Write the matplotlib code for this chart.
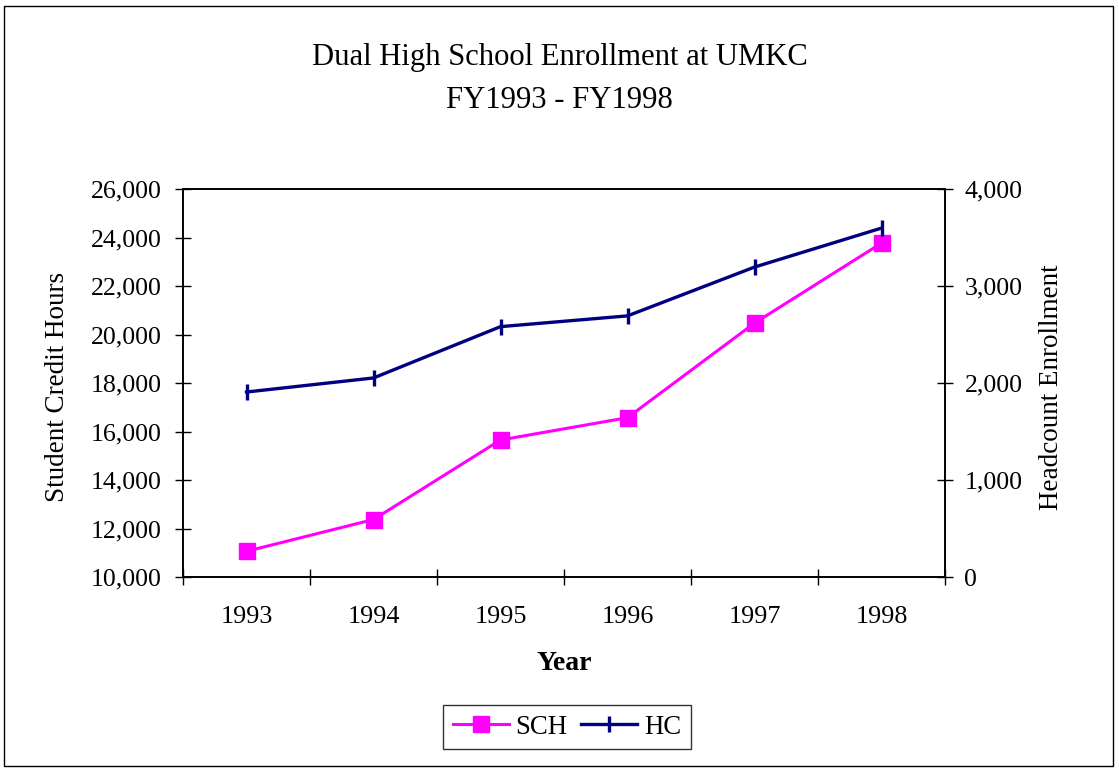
import matplotlib.pyplot as plt
import matplotlib.patches as patches
from matplotlib.ticker import FuncFormatter

# data
years = ['1993', '1994', '1995', '1996', '1997', '1998']
sch = [11060, 12370, 15650, 16570, 20470, 23770]
hc = [1907, 2052, 2581, 2692, 3195, 3597]

plt.rcParams['font.family'] = ['Liberation Serif', 'DejaVu Serif']

fig = plt.figure(figsize=(11.19, 7.72), dpi=100)
fig.patches.append(patches.Rectangle((4 / 1119, 6 / 772), 1109 / 1119, 760 / 772,
                                     transform=fig.transFigure, fill=False,
                                     edgecolor='black', linewidth=1.0))

ax = fig.add_axes([183 / 1119, 1 - 577 / 772, 762 / 1119, 388 / 772])
ax2 = ax.twinx()

x = list(range(len(years)))
l1, = ax.plot(x, sch, color='#FF00FF', marker='s', markersize=11, linewidth=2.2,
              label='SCH')
l2, = ax2.plot(x, hc, color='#000080', marker='|', markersize=11,
               markeredgewidth=2.4, linewidth=2.4, label='HC')

ax.set_xlim(-0.5, len(years) - 0.5)
ax.set_ylim(10000, 26000)
ax2.set_ylim(0, 4000)
ax.set_yticks(range(10000, 26001, 2000))
ax2.set_yticks(range(0, 4001, 1000))
fmt = FuncFormatter(lambda v, p: f'{int(v):,}')
ax.yaxis.set_major_formatter(fmt)
ax2.yaxis.set_major_formatter(fmt)

# boundary ticks, labels at category centres
ax.set_xticks([i - 0.5 for i in range(len(years) + 1)])
ax.set_xticklabels([])
ax.set_xticks(x, minor=True)
ax.set_xticklabels(years, minor=True, fontsize=18.8)
ax.tick_params(axis='x', which='minor', length=0, pad=21)
ax.tick_params(axis='x', which='major', direction='inout', length=12, width=1)
ax.tick_params(axis='y', direction='inout', length=11, width=1, labelsize=18.6, pad=10)
ax2.tick_params(axis='y', direction='inout', length=12, width=1, labelsize=18.6, pad=8)

for a in (ax, ax2):
    for s in a.spines.values():
        s.set_linewidth(1.2)

ax.set_xlabel('Year', fontsize=20, fontweight='bold')
ax.xaxis.set_label_coords(0.5, -(663 - 577) / 388)
ax.set_ylabel('Student Credit Hours', fontsize=19.5)
ax.yaxis.set_label_coords(-(183 - 58) / 762, 0.49)
ax2.set_ylabel('Headcount Enrollment', fontsize=19.5, va='center')
ax2.yaxis.set_label_coords((1052 - 183) / 762, 0.49)
ax.xaxis.label.set_va('center')
ax.yaxis.label.set_va('center')

fig.text(0.5, 1 - 58 / 772, 'Dual High School Enrollment at UMKC',
         ha='center', va='center', fontsize=22.1)
fig.text(0.5, 1 - 100 / 772, 'FY1993 - FY1998',
         ha='center', va='center', fontsize=22.1)

leg = fig.legend([l1, l2], ['SCH', 'HC'], loc='center', bbox_to_anchor=(567 / 1119, 1 - 727 / 772),
                 ncol=2, fontsize=19.3, frameon=True, fancybox=False, edgecolor='black',
                 handlelength=2.1, handletextpad=0.25, columnspacing=0.5, borderpad=0.35)
leg.get_frame().set_linewidth(1.0)

fig.savefig('out.png', dpi=100)
